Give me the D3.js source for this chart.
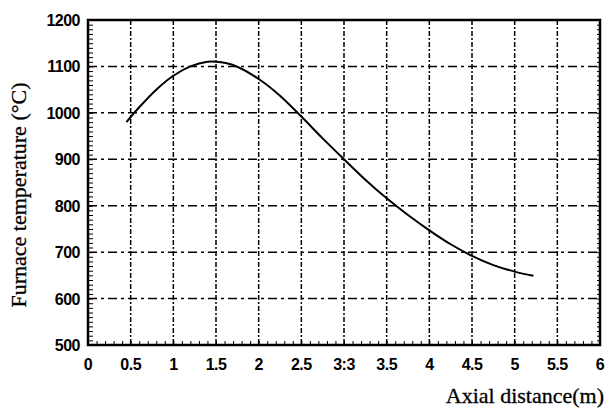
<!DOCTYPE html>
<html>
<head>
<meta charset="utf-8">
<script src="https://cdn.jsdelivr.net/npm/d3@7"></script>
<style>
  body { margin: 0; background: #fff; }
  .tick-label { font-family: "Liberation Sans", Arial, sans-serif; font-size: 16px; font-weight: bold; letter-spacing: -0.5px; fill: #000; }
  .axis-title { font-family: "Liberation Serif", "Times New Roman", serif; font-size: 22px; fill: #000; stroke: #000; stroke-width: 0.3; }
</style>
</head>
<body>
<div id="chart"></div>
<script>
// curve: axial distance (m) vs furnace temperature (degC)
var distance = [0.45, 0.6, 0.8, 1.0, 1.2, 1.4, 1.5, 1.7, 2.0, 2.25, 2.5, 2.75, 3.0, 3.25, 3.5, 3.75, 4.0, 4.25, 4.5, 4.75, 5.0, 5.22];
var temperature = [980, 1012, 1050, 1080, 1100, 1110, 1110, 1103, 1073, 1037, 992, 945, 900, 856, 816, 780, 747, 717, 692, 672, 658, 649];

var xTicks = [0, 0.5, 1, 1.5, 2, 2.5, 3, 3.5, 4, 4.5, 5, 5.5, 6];
var xTickLabels = ["0", "0.5", "1", "1.5", "2", "2.5", "3:3", "3.5", "4", "4.5", "5", "5.5", "6"];
var yTicks = [500, 600, 700, 800, 900, 1000, 1100, 1200];

var margin = {top: 20, right: 5, bottom: 67, left: 88};
var width = 605 - margin.left - margin.right;
var height = 412 - margin.top - margin.bottom;

var xScale = d3.scaleLinear().domain([0, 6]).range([0, width]);
var yScale = d3.scaleLinear().domain([500, 1200]).range([height, 0]);

var svg = d3.select("#chart").append("svg")
    .attr("width", 605)
    .attr("height", 412)
  .append("g")
    .attr("transform", "translate(" + margin.left + "," + margin.top + ")");

// grid, dash-dot like the scan
svg.append("g").selectAll("line.vgrid")
    .data(xTicks.slice(1, -1))
  .enter().append("line")
    .attr("x1", xScale).attr("x2", xScale)
    .attr("y1", 0).attr("y2", height)
    .attr("stroke", "#000")
    .attr("stroke-width", 1.5)
    .attr("stroke-dasharray", "5,2,2,2");

svg.append("g").selectAll("line.hgrid")
    .data(yTicks.slice(1, -1))
  .enter().append("line")
    .attr("x1", 0).attr("x2", width)
    .attr("y1", yScale).attr("y2", yScale)
    .attr("stroke", "#000")
    .attr("stroke-width", 1.5)
    .attr("stroke-dasharray", "9,4,3,4");

// minor ticks, pointing inward
svg.append("g")
    .attr("transform", "translate(0," + height + ")")
    .call(d3.axisBottom(xScale).ticks(60).tickSize(-4).tickFormat(""))
    .call(function(g) { g.select(".domain").remove(); });

svg.append("g")
    .call(d3.axisLeft(yScale).ticks(70).tickSize(-5).tickFormat(""))
    .call(function(g) { g.select(".domain").remove(); });

svg.append("g")
    .attr("transform", "translate(" + width + ",0)")
    .call(d3.axisRight(yScale).ticks(70).tickSize(-3).tickFormat(""))
    .call(function(g) { g.select(".domain").remove(); });

// frame
svg.append("rect")
    .attr("width", width)
    .attr("height", height)
    .attr("fill", "none")
    .attr("stroke", "#000")
    .attr("stroke-width", 2.5);

// tick labels
svg.append("g").selectAll("text")
    .data(xTicks)
  .enter().append("text")
    .attr("class", "tick-label")
    .attr("x", xScale)
    .attr("y", height + 25)
    .attr("text-anchor", "middle")
    .text(function(d, i) { return xTickLabels[i]; });

svg.append("g").selectAll("text")
    .data(yTicks)
  .enter().append("text")
    .attr("class", "tick-label")
    .attr("x", -8)
    .attr("y", function(d) { return yScale(d) + 6; })
    .attr("text-anchor", "end")
    .text(function(d) { return d; });

// curve
var line = d3.line()
    .x(function(d, i) { return xScale(distance[i]); })
    .y(function(d) { return yScale(d); })
    .curve(d3.curveCatmullRom);

svg.append("path")
    .datum(temperature)
    .attr("fill", "none")
    .attr("stroke", "#000")
    .attr("stroke-width", 2)
    .attr("d", line);

// axis titles
svg.append("text")
    .attr("class", "axis-title")
    .attr("transform", "translate(" + (-62) + "," + 175 + ") rotate(-90)")
    .attr("text-anchor", "middle")
    .text("Furnace temperature (°C)");

svg.append("text")
    .attr("class", "axis-title")
    .attr("x", width + 4)
    .attr("y", height + 58)
    .attr("text-anchor", "end")
    .text("Axial distance(m)");
</script>
</body>
</html>
